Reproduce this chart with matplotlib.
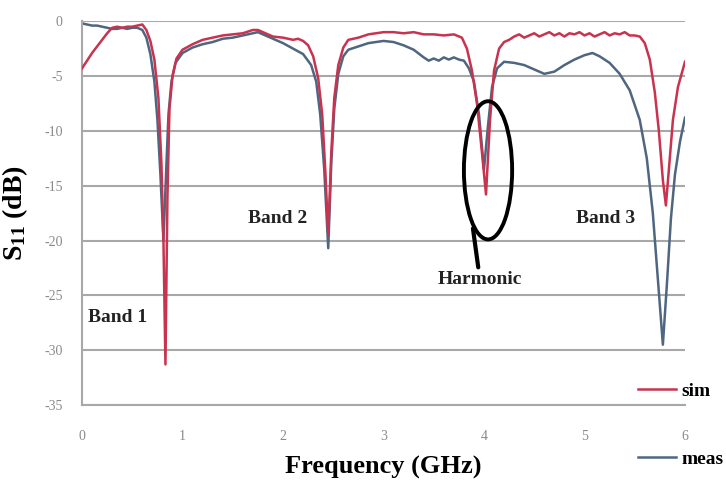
import matplotlib
matplotlib.use("Agg")
import matplotlib.pyplot as plt
from matplotlib.patches import Ellipse

# simulated S11 (red)
sim_f = [0.00, 0.05, 0.10, 0.15, 0.20, 0.25, 0.30, 0.35, 0.40, 0.45, 0.50, 0.55, 0.60,
         0.64, 0.68, 0.72, 0.76, 0.79, 0.81, 0.83, 0.85, 0.87, 0.90, 0.94, 1.00, 1.10,
         1.20, 1.30, 1.40, 1.50, 1.60, 1.70, 1.75, 1.80, 1.90, 2.00, 2.10, 2.15, 2.20,
         2.25, 2.30, 2.35, 2.39, 2.42, 2.45, 2.48, 2.51, 2.55, 2.60, 2.65, 2.75, 2.85,
         3.00, 3.10, 3.20, 3.30, 3.40, 3.50, 3.60, 3.70, 3.78, 3.83, 3.88, 3.93, 3.98,
         4.02, 4.06, 4.10, 4.15, 4.20, 4.25, 4.30, 4.35, 4.40, 4.45, 4.50, 4.55, 4.60,
         4.65, 4.70, 4.75, 4.80, 4.85, 4.90, 4.95, 5.00, 5.05, 5.10, 5.15, 5.20, 5.25,
         5.30, 5.35, 5.40, 5.45, 5.50, 5.55, 5.60, 5.65, 5.70, 5.74, 5.78, 5.81, 5.84,
         5.88, 5.93, 6.00]
sim_db = [-4.3, -3.6, -2.9, -2.3, -1.7, -1.1, -0.6, -0.5, -0.6, -0.5, -0.5, -0.4, -0.3,
          -0.8, -1.8, -3.5, -7.0, -13.0, -20.0, -31.3, -16.0, -8.0, -5.0, -3.4, -2.6, -2.1,
          -1.7, -1.5, -1.3, -1.2, -1.1, -0.8, -0.8, -1.0, -1.4, -1.5, -1.7, -1.6, -1.8,
          -2.2, -3.2, -5.2, -8.5, -13.5, -19.5, -12.0, -7.0, -4.0, -2.4, -1.7, -1.5, -1.2,
          -1.0, -1.0, -1.1, -1.0, -1.2, -1.2, -1.3, -1.2, -1.5, -2.5, -4.5, -7.5, -12.0,
          -15.8, -9.0, -4.5, -2.5, -1.9, -1.7, -1.4, -1.2, -1.5, -1.3, -1.1, -1.4, -1.2,
          -1.0, -1.3, -1.1, -1.4, -1.1, -1.2, -1.0, -1.3, -1.1, -1.4, -1.2, -1.0, -1.3,
          -1.1, -1.2, -1.0, -1.3, -1.3, -1.4, -2.0, -3.5, -6.5, -10.0, -14.5, -16.8, -13.5,
          -9.0, -6.0, -3.7]

# measured S11 (blue-grey)
meas_f = [0.00, 0.05, 0.10, 0.15, 0.20, 0.25, 0.30, 0.35, 0.40, 0.45, 0.50, 0.55, 0.60,
          0.64, 0.68, 0.72, 0.75, 0.78, 0.81, 0.84, 0.86, 0.89, 0.93, 1.00, 1.10, 1.20,
          1.30, 1.40, 1.50, 1.60, 1.70, 1.75, 1.80, 1.90, 2.00, 2.10, 2.20, 2.28, 2.33,
          2.37, 2.41, 2.45, 2.48, 2.51, 2.55, 2.60, 2.65, 2.75, 2.85, 3.00, 3.10, 3.20,
          3.30, 3.40, 3.45, 3.50, 3.55, 3.60, 3.65, 3.70, 3.75, 3.80, 3.85, 3.90, 3.95,
          4.00, 4.04, 4.08, 4.13, 4.20, 4.30, 4.40, 4.50, 4.60, 4.70, 4.80, 4.90, 5.00,
          5.08, 5.15, 5.25, 5.35, 5.45, 5.55, 5.62, 5.68, 5.73, 5.78, 5.82, 5.86, 5.90,
          5.95, 6.00]
meas_db = [-0.2, -0.3, -0.4, -0.4, -0.5, -0.6, -0.7, -0.7, -0.6, -0.7, -0.6, -0.6, -0.8,
           -1.5, -3.0, -5.5, -9.0, -14.0, -20.0, -13.0, -8.5, -5.5, -3.8, -2.9, -2.4, -2.1,
           -1.9, -1.6, -1.5, -1.3, -1.1, -1.0, -1.2, -1.6, -2.0, -2.5, -3.0, -4.0, -5.5,
           -8.5, -13.5, -20.7, -13.0, -8.0, -4.8, -3.2, -2.6, -2.3, -2.0, -1.8, -1.9, -2.2,
           -2.6, -3.3, -3.6, -3.4, -3.6, -3.3, -3.5, -3.3, -3.5, -3.6, -4.3, -5.5, -8.5,
           -13.5, -9.5, -6.0, -4.3, -3.7, -3.8, -4.0, -4.4, -4.8, -4.6, -4.0, -3.5, -3.1,
           -2.9, -3.2, -3.8, -4.8, -6.3, -9.0, -12.5, -17.5, -23.5, -29.5, -24.0, -18.0, -14.0,
           -11.0, -8.8]

x_ticks = [0, 1, 2, 3, 4, 5, 6]
y_ticks = [0, -5, -10, -15, -20, -25, -30, -35]

SIM_COLOR = "#c8334f"
MEAS_COLOR = "#4f6680"
GRID = "#a8a8a8"
serif = "Liberation Serif"

plt.rcParams["axes.unicode_minus"] = False
plt.rcParams["mathtext.fontset"] = "custom"
plt.rcParams["mathtext.rm"] = "Liberation Serif:bold"
plt.rcParams["mathtext.bf"] = "Liberation Serif:bold"
plt.rcParams["mathtext.it"] = "Liberation Serif:bold"

fig = plt.figure(figsize=(7.26, 4.93), dpi=100)
ax = fig.add_axes([0.113, 0.1785, 0.8305, 0.7785])

ax.plot(sim_f, sim_db, color=SIM_COLOR, lw=1.8, label="sim", zorder=3)
ax.plot(meas_f, meas_db, color=MEAS_COLOR, lw=1.8, label="meas", zorder=2)

ax.set_xlim(0, 6)
ax.set_ylim(-35, 0)
ax.set_xticks(x_ticks)
ax.set_yticks(y_ticks)
ax.yaxis.grid(True, color=GRID, lw=1.5)
ax.set_axisbelow(True)
for s in ["top", "right"]:
    ax.spines[s].set_visible(False)
ax.spines["left"].set_color(GRID)
ax.spines["left"].set_linewidth(1.5)
ax.spines["bottom"].set_color(GRID)
ax.spines["bottom"].set_linewidth(1.5)
ax.tick_params(length=0, labelcolor="#8a8a8a", labelsize=10)
ax.tick_params(axis="x", pad=18)
ax.tick_params(axis="y", pad=14)
for lab in ax.get_xticklabels() + ax.get_yticklabels():
    lab.set_fontfamily(serif)

ax.set_xlabel("Frequency (GHz)", fontsize=19, fontweight="bold", fontfamily=serif,
              labelpad=9)
ax.set_ylabel(r"S$_{\mathbf{11}}$ (dB)", fontsize=20, fontweight="bold",
              fontfamily=serif, labelpad=10)

txt = dict(fontsize=14, fontweight="bold", fontfamily=serif, color="#222222")
ax.text(0.06, -27.0, "Band 1", ha="left", va="center", **txt)
ax.text(1.65, -18.0, "Band 2", ha="left", va="center", **txt)
ax.text(4.92, -18.0, "Band 3", ha="left", va="center", **txt)
ax.annotate("Harmonic", xy=(3.89, -18.9), xytext=(3.96, -23.6), ha="center", va="center",
            arrowprops=dict(arrowstyle="-", lw=3, color="black", shrinkA=1, shrinkB=0),
            **txt)
ax.add_patch(Ellipse((4.04, -13.6), 0.48, 12.6, fill=False, ec="black", lw=2.8, zorder=4))

leg = ax.legend(loc="upper left", bbox_to_anchor=(0.91, 0.08), frameon=False,
                labelspacing=2.6, handlelength=1.95, handletextpad=0.25,
                borderaxespad=0, prop=dict(family=serif, weight="bold", size=14))

fig.savefig("out.png", dpi=100)
